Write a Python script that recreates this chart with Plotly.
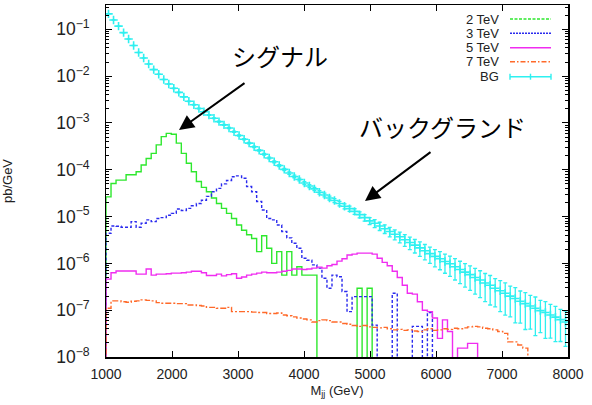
import numpy as np
import plotly.graph_objects as go

# ---------------- data (pb/GeV per bin) ----------------
m_min, m_max, n_bins = 1000, 8000, 92
x_ticks = [1000, 2000, 3000, 4000, 5000, 6000, 7000, 8000]
series_names = ["2 TeV", "3 TeV", "5 TeV", "7 TeV", "BG"]

sig_2tev = [2.63e-5, 5.1e-5, 6.0e-5, 6.0e-5, 7.8e-5, 7.8e-5, 9.1e-5, 1.26e-4, 1.74e-4, 2.24e-4,
            3.4e-4, 5.1e-4, 6.0e-4, 5.75e-4, 3.7e-4, 2.24e-4, 1.38e-4, 9.1e-5, 5.6e-5, 4.2e-5,
            3.4e-5, 2.5e-5, 1.9e-5, 1.5e-5, 1.17e-5, 9.1e-6, 6.6e-6, 5.1e-6, 4.1e-6, 3.4e-6,
            1.78e-6, 3.9e-6, 2.1e-6, 1.0e-6, 1.78e-6, 5.6e-7, 1.78e-6, 5.6e-7, 8.5e-7, 5.6e-7,
            5.6e-7, 5.6e-7, 0, 0, 0, 0, 0, 0, 0, 0,
            2.95e-7, 0, 2.95e-7]

sig_3tev = [4.4e-6, 6.3e-6, 6.2e-6, 5.9e-6, 5.9e-6, 7.8e-6, 5.9e-6, 7.2e-6, 8.5e-6, 7.8e-6,
            9.1e-6, 9.5e-6, 1.07e-5, 1.17e-5, 1.45e-5, 1.35e-5, 1.5e-5, 1.7e-5, 1.9e-5, 2.24e-5,
            2.7e-5, 3.4e-5, 4.0e-5, 5.0e-5, 5.9e-5, 7.1e-5, 7.4e-5, 6.6e-5, 4.4e-5, 3.4e-5,
            2.1e-5, 1.38e-5, 9.1e-6, 8.5e-6, 6.6e-6, 4.8e-6, 3.5e-6, 2.7e-6, 2.1e-6, 1.29e-6,
            1.17e-6, 9.3e-7, 7.9e-7, 4.8e-7, 2.95e-7, 5.6e-7, 5.2e-7, 2.5e-7, 9.3e-8, 1.95e-7,
            1.95e-7, 1.95e-7, 1.95e-7, 4.8e-8, 0, 0, 0, 2.3e-7, 0, 0,
            0, 4.5e-8, 4.5e-8, 0, 8.9e-8]

sig_5tev = [4.6e-7, 6.3e-7, 6.9e-7, 6.9e-7, 6.9e-7, 6.9e-7, 5.9e-7, 5.9e-7, 7.6e-7, 5.6e-7,
            5.9e-7, 5.9e-7, 6.0e-7, 6.2e-7, 6.2e-7, 6.3e-7, 6.5e-7, 6.8e-7, 6.8e-7, 6.3e-7,
            5.5e-7, 5.5e-7, 5.9e-7, 5.4e-7, 5.75e-7, 6.0e-7, 4.8e-7, 5.1e-7, 5.6e-7, 5.9e-7,
            6.2e-7, 6.5e-7, 6.3e-7, 6.3e-7, 6.5e-7, 6.8e-7, 7.1e-7, 7.6e-7, 7.6e-7, 7.4e-7,
            7.6e-7, 7.9e-7, 8.3e-7, 7.9e-7, 8.9e-7, 9.5e-7, 1.12e-6, 1.26e-6, 1.51e-6, 1.58e-6,
            1.66e-6, 1.66e-6, 1.66e-6, 1.58e-6, 1.29e-6, 1.05e-6, 8.9e-7, 6.8e-7, 5.0e-7, 3.4e-7,
            2.3e-7, 2.2e-7, 1.51e-7, 1.0e-7, 9.3e-8, 6.8e-8, 2.5e-8, 6.2e-8, 3.5e-8, 0,
            1.55e-8, 1.55e-8, 1.95e-8, 1.95e-8]

sig_7tev = [1.10e-7, 1.58e-7, 1.58e-7, 1.51e-7, 1.48e-7, 1.55e-7, 1.58e-7, 1.66e-7, 1.62e-7, 1.58e-7,
            1.45e-7, 1.41e-7, 1.41e-7, 1.41e-7, 1.38e-7, 1.38e-7, 1.29e-7, 1.29e-7, 1.26e-7, 1.23e-7,
            1.15e-7, 1.15e-7, 1.10e-7, 1.10e-7, 1.15e-7, 9.3e-8, 9.3e-8, 9.3e-8, 9.3e-8, 9.1e-8,
            8.9e-8, 8.9e-8, 8.5e-8, 8.5e-8, 8.7e-8, 7.9e-8, 7.6e-8, 7.2e-8, 6.8e-8, 6.5e-8,
            6.2e-8, 5.6e-8, 6.0e-8, 6.2e-8, 6.0e-8, 5.6e-8, 5.6e-8, 5.2e-8, 5.0e-8, 4.7e-8,
            4.5e-8, 4.7e-8, 4.4e-8, 4.3e-8, 4.2e-8, 4.3e-8, 4.0e-8, 3.8e-8, 3.9e-8, 3.7e-8,
            3.8e-8, 3.6e-8, 3.5e-8, 3.8e-8, 4.0e-8, 3.7e-8, 3.8e-8, 4.0e-8, 3.9e-8, 4.1e-8,
            4.0e-8, 4.2e-8, 4.4e-8, 4.5e-8, 4.4e-8, 4.1e-8, 4.0e-8, 3.8e-8, 3.5e-8, 3.2e-8,
            2.1e-8, 2.1e-8, 1.8e-8, 1.55e-8]

bg = [0.214, 0.158, 0.117, 0.085, 0.062, 0.045, 0.032, 0.0245, 0.0182, 0.0138,
      0.011, 0.0085, 0.0068, 0.0055, 0.0045, 0.0036, 0.0029, 0.00245, 0.00204, 0.00174,
      0.00148, 0.00126, 0.00107, 9.1e-4, 7.8e-4, 6.5e-4, 5.4e-4, 4.5e-4, 3.7e-4, 3.1e-4,
      2.6e-4, 2.14e-4, 1.78e-4, 1.48e-4, 1.23e-4, 1.02e-4, 8.5e-5, 7.2e-5, 6.2e-5, 5.2e-5,
      4.5e-5, 3.9e-5, 3.3e-5, 2.9e-5, 2.5e-5, 2.2e-5, 1.9e-5, 1.66e-5, 1.48e-5, 1.29e-5,
      1.10e-5, 9.5e-6, 8.1e-6, 7.2e-6, 6.3e-6, 5.5e-6, 4.8e-6, 4.2e-6, 3.7e-6, 3.2e-6,
      2.8e-6, 2.45e-6, 2.14e-6, 1.86e-6, 1.62e-6, 1.41e-6, 1.26e-6, 1.10e-6, 9.8e-7, 8.5e-7,
      7.4e-7, 6.5e-7, 5.75e-7, 5.0e-7, 4.4e-7, 3.8e-7, 3.4e-7, 2.95e-7, 2.6e-7, 2.3e-7,
      2.0e-7, 1.78e-7, 1.55e-7, 1.38e-7, 1.23e-7, 1.10e-7, 9.8e-8, 8.9e-8, 7.9e-8, 7.1e-8,
      6.3e-8, 5.6e-8]

bg_rel_err = [0.004] * 11 + \
    [0.007, 0.008, 0.009, 0.010, 0.011, 0.012, 0.013, 0.014, 0.016, 0.018,
     0.020, 0.022, 0.024, 0.026, 0.028, 0.030, 0.032, 0.034, 0.036, 0.038,
     0.04, 0.043, 0.046, 0.05, 0.054, 0.058, 0.062, 0.066,
     0.07, 0.075, 0.08, 0.085, 0.09, 0.095, 0.10,
     0.11, 0.12, 0.13, 0.14, 0.15, 0.16, 0.17,
     0.19, 0.20, 0.21, 0.23, 0.24, 0.26,
     0.28, 0.30, 0.32, 0.34, 0.36, 0.38, 0.40,
     0.42, 0.44, 0.46, 0.48, 0.50, 0.52, 0.54,
     0.56, 0.58, 0.60, 0.62, 0.60, 0.64, 0.66,
     0.64, 0.70, 0.66, 0.72, 0.68, 0.74, 0.66, 0.72, 0.68, 0.70, 0.66, 0.70]

# ---------------- styling ----------------
C_GREEN, C_BLUE, C_MAG, C_ORANGE, C_CYAN = "#2ee82e", "#2a2aee", "#f02cf0", "#ff6a2a", "#2ef0f0"
FONT = "Liberation Sans, Arial, Helvetica, sans-serif"
JFONT = "Noto Sans CJK JP, sans-serif"

edges = np.linspace(m_min, m_max, n_bins + 1)
centers = 0.5 * (edges[:-1] + edges[1:])
FLOOR = 1e-10


def step_xy(vals):
    v = np.array(list(vals) + [0.0] * (n_bins - len(vals)), dtype=float)
    v = np.where(v > 0, v, FLOOR)
    x = np.concatenate([[edges[0]], edges])
    y = np.concatenate([[FLOOR], v, [FLOOR]])
    return x, y


fig = go.Figure()
styles = [(sig_2tev, C_GREEN, "solid"), (sig_3tev, C_BLUE, "3px,2px"),
          (sig_5tev, C_MAG, "solid"), (sig_7tev, C_ORANGE, "6px,2px,2px,2px")]
for (vals, col, dash), name in zip(styles, series_names[:4]):
    x, y = step_xy(vals)
    fig.add_trace(go.Scatter(x=x, y=y, mode="lines", name=name, showlegend=False,
                             line=dict(color=col, width=1.4, dash=dash, shape="hv")))

bg_arr = np.array(bg)
err = bg_arr * np.array(bg_rel_err)
fig.add_trace(go.Scatter(
    x=centers, y=bg_arr, mode="markers", name=series_names[4], showlegend=False,
    marker=dict(symbol="cross-thin", size=6, color=C_CYAN, line=dict(color=C_CYAN, width=1.6)),
    error_y=dict(type="data", symmetric=False, array=err, arrayminus=err,
                 color=C_CYAN, thickness=1.3, width=2)))

# ---------------- layout ----------------
L, R, T, B = 106, 24, 5, 48
W, H = 592, 405
pw, ph = W - L - R, H - T - B


def px(xp):
    return (xp - L) / pw


def py(yp):
    return (H - B - yp) / ph


annotations = []
shapes = []
# manual gnuplot-style key (text right, sample left)
key_y = [19, 33.3, 47.7, 61.7, 76.7]
key_styles = [(C_GREEN, "3px,1.5px"), (C_BLUE, "2px,1px"), (C_MAG, "solid"),
              (C_ORANGE, "5px,2px,1.5px,2px"), (C_CYAN, "solid")]
for name, yk, (col, dash) in zip(series_names, key_y, key_styles):
    annotations.append(dict(xref="paper", yref="paper", x=px(501), y=py(yk), text=name,
                            showarrow=False, xanchor="right", yanchor="middle",
                            font=dict(family=FONT, size=13, color="#222")))
    shapes.append(dict(type="line", xref="paper", yref="paper", x0=px(510), x1=px(551),
                       y0=py(yk), y1=py(yk), line=dict(color=col, width=1.4, dash=dash)))
yb = key_y[-1]
for xc, hh in [(510, 3), (551, 3), (530.5, 3)]:
    shapes.append(dict(type="line", xref="paper", yref="paper", x0=px(xc), x1=px(xc),
                       y0=py(yb - hh), y1=py(yb + hh), line=dict(color=C_CYAN, width=1.4)))

# Japanese labels and arrows
annotations.append(dict(xref="paper", yref="paper", x=px(280), y=py(55), text="シグナル",
                        showarrow=False, xanchor="center", yanchor="middle",
                        font=dict(family=JFONT, size=24, color="black")))
annotations.append(dict(xref="paper", yref="paper", x=px(442), y=py(127), text="バックグランド",
                        showarrow=False, xanchor="center", yanchor="middle",
                        font=dict(family=JFONT, size=24, color="black")))
for (tx, ty), (sx, sy) in [((179, 130), (246, 82)), ((365, 201), (432, 151))]:
    annotations.append(dict(xref="paper", yref="paper", x=px(tx), y=py(ty), text="",
                            showarrow=True, axref="pixel", ayref="pixel",
                            ax=sx - tx, ay=sy - ty, arrowhead=2, arrowsize=1.5,
                            arrowwidth=2, arrowcolor="black", standoff=0, startstandoff=0))

axis_common = dict(showline=True, linecolor="black", linewidth=1.5, mirror="allticks",
                   ticks="inside", ticklen=6, tickwidth=1, tickcolor="black",
                   showgrid=False, zeroline=False)

fig.update_layout(
    width=W, height=H,
    margin=dict(l=L, r=R, t=T, b=B, autoexpand=False),
    paper_bgcolor="white", plot_bgcolor="white",
    font=dict(family=FONT, color="#222"),
    xaxis=dict(range=[m_min, m_max], tickvals=x_ticks, ticktext=[str(v) for v in x_ticks],
               tickfont=dict(size=14, family=FONT, color="#222"), ticklabelstandoff=4,
               title=dict(text="M<sub>jj</sub> (GeV)", font=dict(size=13, family=FONT, color="#222"),
                          standoff=4),
               **axis_common),
    yaxis=dict(type="log", range=[-8, -0.48], dtick=1, exponentformat="power",
               tickfont=dict(size=14, family=FONT, color="#222"), ticklabelstandoff=12,
               minor=dict(ticks="inside", ticklen=3, tickcolor="black", showgrid=False),
               title=dict(text="pb/GeV", font=dict(size=13, family=FONT, color="#222"),
                          standoff=40),
               **axis_common),
    annotations=annotations, shapes=shapes,
)

fig.write_html("out.html", config={"displayModeBar": False, "staticPlot": True},
               post_script="document.body.style.margin='0px';")
